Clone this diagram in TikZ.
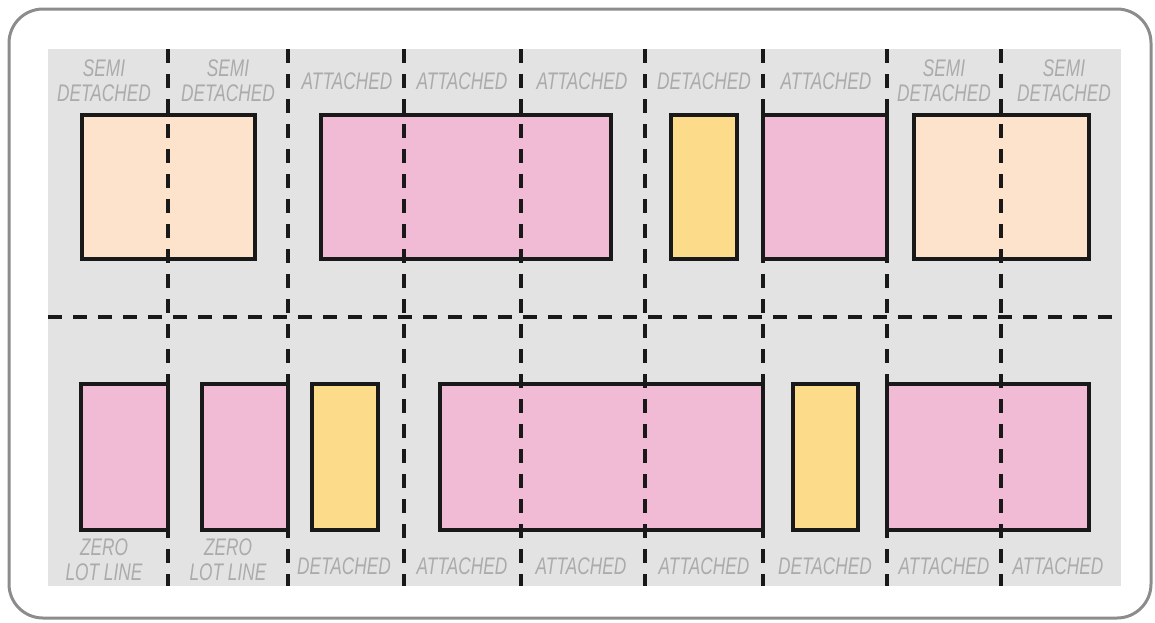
\documentclass[tikz,border=0pt]{standalone}
\usepackage{fontspec}
\newfontfamily\lblfont{Liberation Sans}[FakeStretch=0.72]
\definecolor{bggray}{HTML}{E3E3E3}
\definecolor{framegray}{HTML}{8C8C8C}
\definecolor{pinkfill}{HTML}{F1BBD5}
\definecolor{peachfill}{HTML}{FDE3CB}
\definecolor{yellowfill}{HTML}{FCDC8A}
\definecolor{lblgray}{HTML}{ABABAB}
\tikzset{
  outerframe/.style={draw=framegray,line width=3pt,rounded corners=34pt},
  lotbg/.style={fill=bggray},
  bldg/.style={draw=black!90,line width=4.5pt},
  attbldg/.style={bldg,fill=pinkfill},
  semibldg/.style={bldg,fill=peachfill},
  detbldg/.style={bldg,fill=yellowfill},
  lotline/.style={draw=black!90,line width=4.5pt,dash pattern=on 14pt off 11pt},
  lbl/.style={font=\lblfont\itshape\fontsize{24}{25}\selectfont,
    text=lblgray,align=center,inner sep=0pt},
}
\begin{document}
\begin{tikzpicture}[x=1pt,y=-1pt]
  \useasboundingbox (0,0) rectangle (1155,622);
  \draw[outerframe] (9,9) rectangle (1151,618);
  \fill[lotbg] (48,49) rectangle (1121,586);

  \draw[semibldg] (82,115) rectangle (255,259);
  \draw[attbldg] (321,115) rectangle (611,259);
  \draw[detbldg] (671,115) rectangle (737,259);
  \draw[attbldg] (763,115) rectangle (887,259);
  \draw[semibldg] (914,115) rectangle (1089,259);

  \draw[attbldg] (81,384) rectangle (168,530);
  \draw[attbldg] (202,384) rectangle (288,530);
  \draw[detbldg] (312,384) rectangle (378,530);
  \draw[attbldg] (440,384) rectangle (763,530);
  \draw[detbldg] (793,384) rectangle (858,530);
  \draw[attbldg] (887,384) rectangle (1089,530);

  \draw[lotline] (48,317) -- (1121,317);
  \draw[lotline] (168,49) -- (168,586);
  \draw[lotline] (288,49) -- (288,586);
  \draw[lotline] (404,49) -- (404,586);
  \draw[lotline] (521,49) -- (521,586);
  \draw[lotline] (645,49) -- (645,586);
  \draw[lotline] (763,49) -- (763,586);
  \draw[lotline] (887,49) -- (887,586);
  \draw[lotline] (1001,49) -- (1001,586);

  \node[lbl] (t1) at (104,81) {SEMI\\DETACHED};
  \node[lbl] (t2) at (228,81) {SEMI\\DETACHED};
  \node[lbl] (t3) at (347,81) {ATTACHED};
  \node[lbl] (t4) at (462,81) {ATTACHED};
  \node[lbl] (t5) at (582,81) {ATTACHED};
  \node[lbl] (t6) at (704,81) {DETACHED};
  \node[lbl] (t7) at (826,81) {ATTACHED};
  \node[lbl] (t8) at (944,81) {SEMI\\DETACHED};
  \node[lbl] (t9) at (1064,81) {SEMI\\DETACHED};

  \node[lbl] (b1) at (104,560) {ZERO\\LOT LINE};
  \node[lbl] (b2) at (228,560) {ZERO\\LOT LINE};
  \node[lbl] (b3) at (344,566) {DETACHED};
  \node[lbl] (b4) at (462,566) {ATTACHED};
  \node[lbl] (b5) at (581,566) {ATTACHED};
  \node[lbl] (b6) at (704,566) {ATTACHED};
  \node[lbl] (b7) at (825,566) {DETACHED};
  \node[lbl] (b8) at (944,566) {ATTACHED};
  \node[lbl] (b9) at (1058,566) {ATTACHED};
\end{tikzpicture}
\end{document}
